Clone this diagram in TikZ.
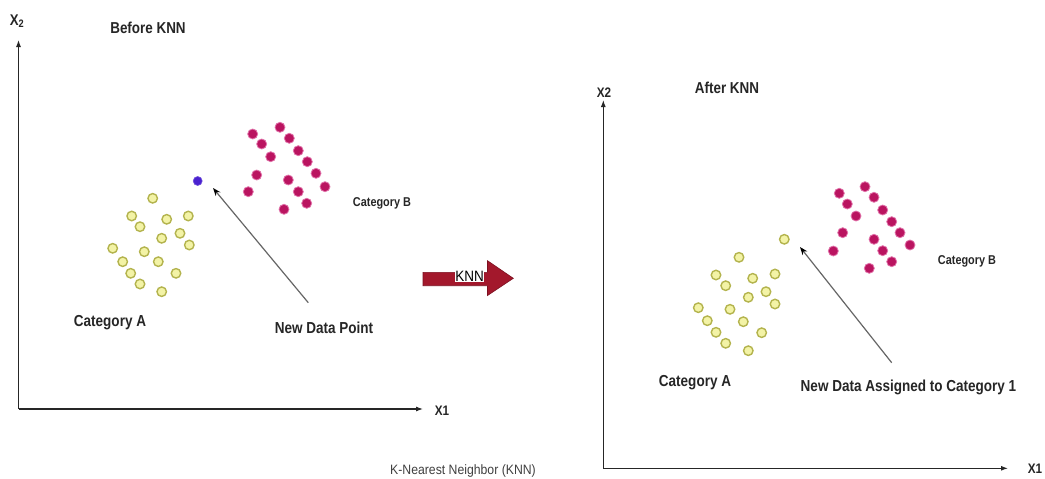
\documentclass[tikz,border=0pt]{standalone}
\usepackage{fontspec}
\setmainfont[FakeStretch=0.9]{Liberation Sans}
\newfontfamily\labfont[FakeStretch=0.85]{Liberation Sans}
\usetikzlibrary{arrows.meta}
\definecolor{ydotfill}{HTML}{F3F3A6}
\definecolor{ydotline}{HTML}{B4B44E}
\definecolor{mdot}{HTML}{BA1460}
\definecolor{mglow}{HTML}{E070A8}
\definecolor{bdot}{HTML}{4A22D0}
\definecolor{knnred}{HTML}{A3182C}
\definecolor{knnedge}{HTML}{7C1020}
\definecolor{txt}{HTML}{262626}
\tikzset{
  ydot/.style={circle,draw=ydotline,fill=ydotfill,line width=1.4pt,minimum size=9.5pt,inner sep=0pt},
  mdotstyle/.style={circle,draw=mglow,fill=mdot,line width=0.8pt,minimum size=10pt,inner sep=0pt},
  bdotstyle/.style={circle,draw=bdot!80!white,fill=bdot,line width=0.6pt,minimum size=9pt,inner sep=0pt},
  axisline/.style={draw=black!85,line width=1.1pt,-{Latex[length=7pt,width=5pt]}},
  pointer/.style={draw=black!60,line width=1.2pt,-{Stealth[length=8pt,width=6pt,black]}},
  lbl/.style={text=txt,inner sep=0pt,font=\labfont\bfseries\fontsize{15.9}{18}\selectfont},
  title/.style={text=txt,inner sep=0pt,font=\labfont\bfseries\fontsize{15.8}{18}\selectfont},
  small/.style={text=txt,inner sep=0pt,font=\labfont\bfseries\fontsize{12.8}{15}\selectfont},
  axlbl/.style={text=txt,inner sep=0pt,font=\labfont\bfseries\fontsize{13.8}{15}\selectfont},
  tiny/.style={text=black!75,inner sep=0pt,font=\fontsize{13.6}{15}\selectfont},
}
\begin{document}
\begin{tikzpicture}[x=1pt,y=-1pt]
\useasboundingbox[fill=white] (0,0) rectangle (1045,479);

% ---------- left panel ----------
\coordinate (LO) at (18.5,409);
\coordinate (LY) at (18.5,40);
\coordinate (LX) at (423,409);
\draw[axisline] (LO) -- (LY);
\draw[axisline] (LO) -- (LX);
\node[axlbl,font=\labfont\bfseries\fontsize{15.5}{17}\selectfont] (lx2) at (17,21) {X\textsubscript{2}};
\node[axlbl] (lx1) at (442,411) {X1};
\node[title] (before) at (148,28) {Before KNN};

\foreach \x/\y [count=\i] in {152.7/198.3,131.7/216,188.3/216,166.7/219.3,140/226.7,180/233.3,161.7/238.3,189.3/245,112.7/248.3,144.3/251.7,122.7/261.7,158.3/261.7,130.7/273.3,176/273.3,140/284,161.7/291.7}
  \node[ydot] (la\i) at (\x,\y) {};
\foreach \x/\y [count=\i] in {252.7/134,280/127.3,261.7/144,289.3/138.3,270.7/156.7,298.3/150.7,307.3/161.7,256.7/175,316/173.3,288.3/180,325/186.7,248.3/191.7,298.3/191.7,306.7/203.3,284/209.3}
  \node[mdotstyle] (lb\i) at (\x,\y) {};
\node[bdotstyle] (newpt) at (197.7,181) {};

\node[lbl] (lcatA) at (110,323) {Category A};
\node[small] (lcatB) at (382,203) {Category B};
\node[lbl] (newlbl) at (324,328) {New Data Point};
\coordinate (lptail) at (308.3,302.7);
\coordinate (lptip) at (213,188);
\draw[pointer] (lptail) -- (lptip);

% ---------- KNN arrow ----------
\path[fill=knnred,draw=knnedge,line width=0.6pt]
  (423,272.3) -- (487.5,272.3) -- (487.5,260.7) -- (513.3,278.3)
  -- (487.5,295.5) -- (487.5,285.7) -- (423,285.7) -- cycle;
\node[fill=white,inner sep=0.6pt,text=black,font=\fontsize{15}{16}\selectfont] (knn) at (469.5,276) {KNN};
\node[tiny] (caption) at (463,471) {K-Nearest Neighbor (KNN)};

% ---------- right panel ----------
\coordinate (RO) at (603.3,468.3);
\coordinate (RY) at (603.3,100);
\coordinate (RX) at (1008,468.3);
\draw[axisline] (RO) -- (RY);
\draw[axisline] (RO) -- (RX);
\node[axlbl] (rx2) at (604,93) {X2};
\node[axlbl] (rx1) at (1035,469) {X1};
\node[title] (after) at (727,88) {After KNN};

\foreach \x/\y [count=\i] in {739/257.3,716/275,775/274,752.7/278.3,725.7/285.7,766/291.7,748.3/297.3,775/304,698.3/307.7,730/309.3,707.3/320.7,743.3/321.7,716/332.3,761.7/332.7,725.7/343.3,748.3/350.7}
  \node[ydot] (ra\i) at (\x,\y) {};
\node[ydot] (assigned) at (784.3,239.3) {};
\foreach \x/\y [count=\i] in {839.3/193.3,865/186.7,847.3/204,874/197.3,856/216,882.7/210,891.7/221.7,842.7/232.7,900/232.7,874/239.3,910/245,833.3/251,882.7/250.7,891.7/261.7,869.3/268.3}
  \node[mdotstyle] (rb\i) at (\x,\y) {};

\node[lbl] (rcatA) at (695,383) {Category A};
\node[small] (rcatB) at (967,261) {Category B};
\node[lbl] (assignlbl) at (908.5,387) {New Data Assigned to Category 1};
\coordinate (rptail) at (891.7,362.7);
\coordinate (rptip) at (800,247);
\draw[pointer] (rptail) -- (rptip);
\end{tikzpicture}
\end{document}
